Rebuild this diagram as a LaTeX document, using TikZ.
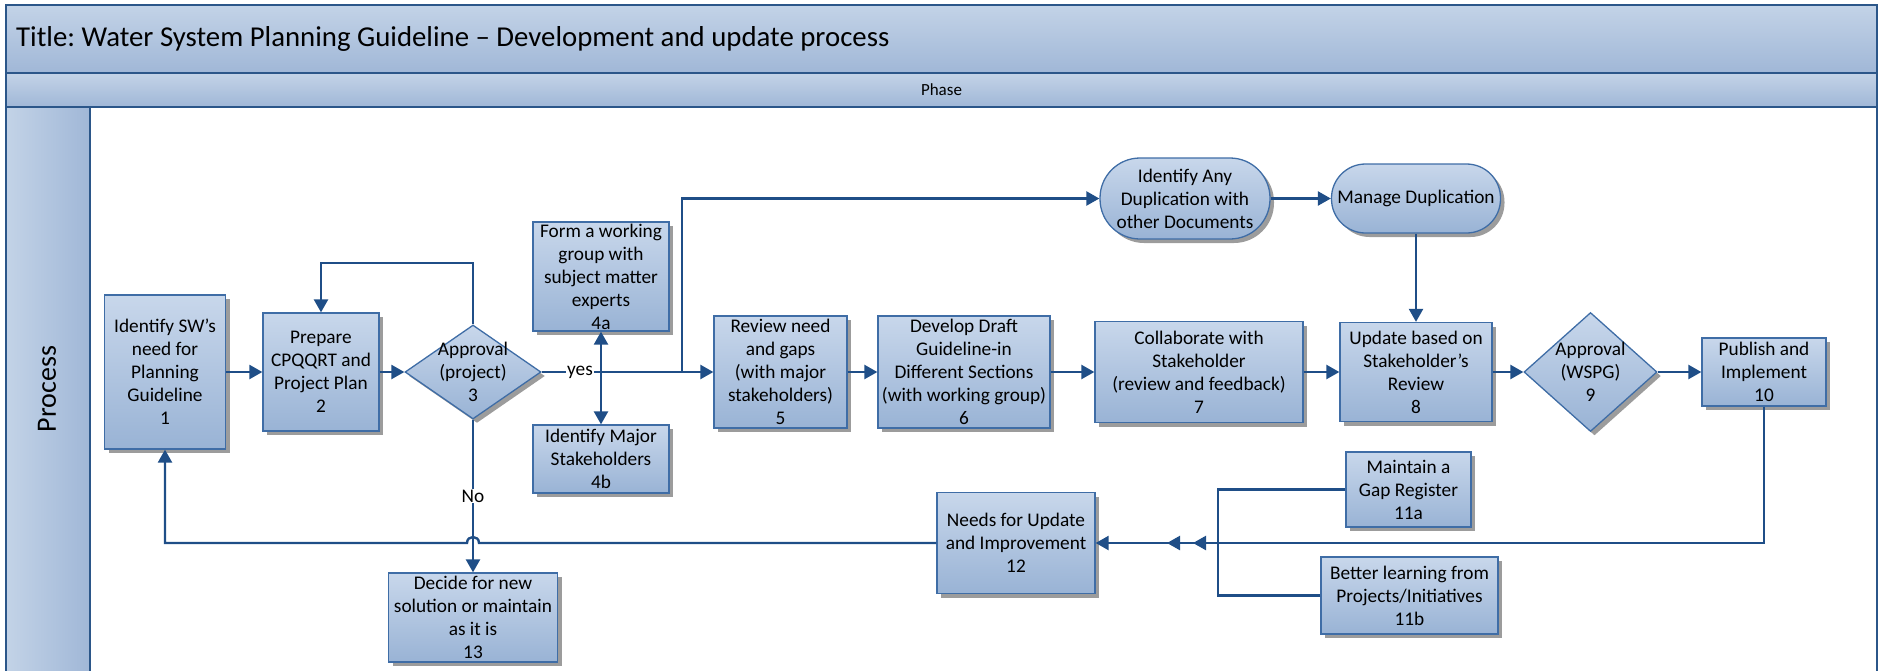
\documentclass[tikz,border=0pt]{standalone}
\usepackage{fontspec}
\setmainfont{Carlito}
\frenchspacing
\usetikzlibrary{arrows.meta,shapes.geometric,shadows,calc}
\definecolor{frameblue}{HTML}{2B5689}
\definecolor{nodeborder}{HTML}{3F6DA6}
\definecolor{arrowblue}{HTML}{1F4E87}
\definecolor{filltop}{HTML}{C8D7EB}
\definecolor{fillbot}{HTML}{99B3D5}
\definecolor{bandtop}{HTML}{C3D3E7}
\definecolor{bandbot}{HTML}{A0B7D7}
\definecolor{shadowgray}{HTML}{9C9C9C}
\begin{document}
\begin{tikzpicture}[x=1pt,y=-1pt,
  boxtxt/.style={font=\fontsize{19.3}{23}\selectfont},
  procbox/.style={draw=nodeborder, line width=1.3pt, top color=filltop, bottom color=fillbot,
    inner sep=0pt, align=center, boxtxt,
    drop shadow={shadow xshift=4pt, shadow yshift=-4pt, fill=shadowgray, opacity=1}},
  decision/.style={procbox, diamond},
  conn/.style={draw=arrowblue, line width=2.4pt},
  arr/.style={conn, -{Triangle[length=13pt,width=14pt]}},
  lbl/.style={boxtxt, fill=white, inner sep=1pt}
]
\useasboundingbox (0,0) rectangle (1881,670);
% frame
\fill[top color=bandtop, bottom color=bandbot] (6,5) rectangle (1877,73);
\fill[top color=bandtop, bottom color=bandbot] (6,73) rectangle (1877,107);
\fill[left color=bandtop, right color=bandbot] (6,107) rectangle (90,680);
\draw[frameblue, line width=2.2pt] (6,680) -- (6,5) -- (1877,5) -- (1877,680);
\draw[frameblue, line width=2.2pt] (6,73) -- (1877,73);
\draw[frameblue, line width=2.2pt] (6,107) -- (1877,107);
\draw[frameblue, line width=2.2pt] (90,107) -- (90,680);

\node[anchor=west, font=\fontsize{28.8}{34}\selectfont, inner sep=0pt] (title) at (16,39) {Title: Water System Planning Guideline – Development and update process};
\node[font=\fontsize{17}{20}\selectfont] (phase) at (941.5,90) {Phase};
\node[rotate=90, font=\fontsize{28}{34}\selectfont] (proc) at (47,389) {Process};

% nodes
\node[procbox, minimum width=121pt, minimum height=154pt] (n1) at (165,372) {Identify SW’s\\need for\\Planning\\Guideline\\1};
\node[procbox, minimum width=116pt, minimum height=118pt] (n2) at (321,372) {Prepare\\CPQQRT and\\Project Plan\\2};
\node[decision, minimum width=136pt, minimum height=94pt, label={[boxtxt,align=center]center:Approval\\(project)\\3}] (n3) at (473,372) {};
\node[procbox, minimum width=136pt, minimum height=109pt] (n4a) at (601,276.5) {Form a working\\group with\\subject matter\\experts\\4a};
\node[procbox, minimum width=136pt, minimum height=68pt] (n4b) at (601,459) {Identify Major\\Stakeholders\\4b};
\node[procbox, minimum width=133pt, minimum height=112pt] (n5) at (780.5,372) {Review need\\and gaps\\(with major\\stakeholders)\\5};
\node[procbox, minimum width=172pt, minimum height=112pt] (n6) at (964,372) {Develop Draft\\Guideline-in\\Different Sections\\(with working group)\\6};
\node[procbox, minimum width=208pt, minimum height=101pt] (n7) at (1199,372) {Collaborate with\\Stakeholder\\(review and feedback)\\7};
\node[procbox, minimum width=152pt, minimum height=99pt] (n8) at (1416,372) {Update based on\\Stakeholder’s\\Review\\8};
\node[decision, minimum width=133pt, minimum height=119pt, label={[boxtxt,align=center]center:Approval\\(WSPG)\\9}] (n9) at (1590.5,372) {};
\node[procbox, minimum width=124pt, minimum height=68pt] (n10) at (1764,372) {Publish and\\Implement\\10};
\node[procbox, rounded corners=40pt, minimum width=170pt, minimum height=81pt] (dup1) at (1185,198.5) {Identify Any\\Duplication with\\other Documents};
\node[procbox, rounded corners=34pt, minimum width=169pt, minimum height=69pt] (dup2) at (1416,198.5) {Manage Duplication};
\node[procbox, minimum width=125pt, minimum height=75pt] (n11a) at (1408.5,489.5) {Maintain a\\Gap Register\\11a};
\node[procbox, minimum width=177pt, minimum height=77pt] (n11b) at (1409.5,595.5) {Better learning from\\Projects/Initiatives\\11b};
\node[procbox, minimum width=158pt, minimum height=101pt] (n12) at (1016,543) {Needs for Update\\and Improvement\\12};
\node[procbox, minimum width=169pt, minimum height=89pt] (n13) at (473,617.5) {Decide for new\\solution or maintain\\as it is\\13};

% connectors
\coordinate (fb) at (473,263);
\coordinate (j4) at (601,372);
\coordinate (j6) at (682,372);
\coordinate (m10) at (1764,543);
\coordinate (jb) at (1218,543);
\coordinate (t1) at (1193,543);
\coordinate (t2) at (1167,543);
\coordinate (r1) at (479,543);
\coordinate (r2) at (467,543);
\coordinate (c1) at (165,543);

\draw[arr] (n1.east) -- (n2.west);
\draw[arr] (n2.east) -- (n3.west);
\draw[arr] (n3.north) -- (fb) -| (n2.north);
\draw[arr] (n3.east) -- (n5.west);
\draw[arr] (j4) -- (n4a.south);
\draw[arr] (j4) -- (n4b.north);
\draw[arr] (j6) |- (dup1.west);
\draw[arr] (dup1.east) -- (dup2.west);
\draw[arr] (dup2.south) -- (n8.north);
\draw[arr] (n5.east) -- (n6.west);
\draw[arr] (n6.east) -- (n7.west);
\draw[arr] (n7.east) -- (n8.west);
\draw[arr] (n8.east) -- (n9.west);
\draw[arr] (n9.east) -- (n10.west);
\draw[arr] (n10.south) -- (m10) -- (n12.east);
\draw[conn] (n11a.west) -| (jb);
\draw[conn] (n11b.west) -| (jb);
\draw[arr] (jb) -- (t1);
\draw[arr] (jb) -- (t2);
\draw[arr] (n12.west) -- (r1) .. controls (479,535) and (467,535) .. (r2) -- (c1) -- (n1.south);
\draw[arr] (n3.south) -- (n13.north);

\node[lbl] (yes) at (580,372) {yes};
\node[lbl] (no) at (473,496) {No};
\end{tikzpicture}
\end{document}
